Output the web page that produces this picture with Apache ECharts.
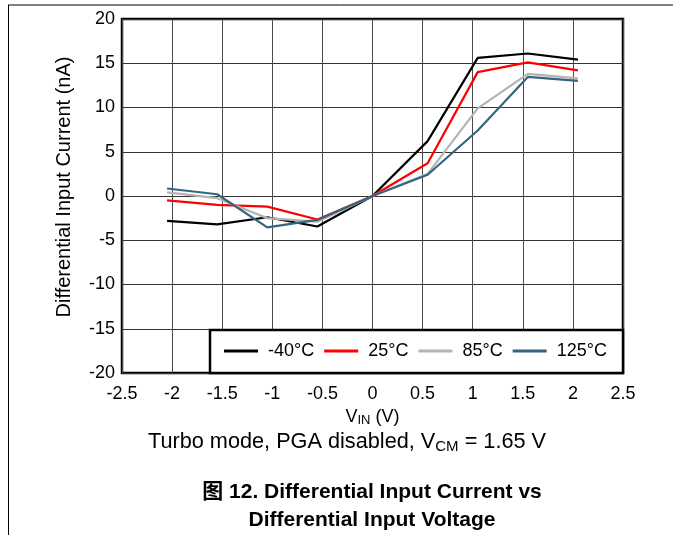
<!DOCTYPE html>
<html>
<head>
<meta charset="utf-8">
<script src="https://cdn.jsdelivr.net/npm/echarts@6/dist/echarts.min.js"></script>
<style>
html,body{margin:0;padding:0;background:#fff;}
#main{width:673px;height:535px;}
</style>
</head>
<body>
<div id="main"></div>
<script>
// Data
var vin = [-2.05, -1.55, -1.05, -0.55, 0, 0.55, 1.05, 1.55, 2.05];
var seriesNames = ['-40°C', '25°C', '85°C', '125°C'];
var iM40 = [-2.8, -3.2, -2.4, -3.45, 0, 6.2, 15.6, 16.1, 15.4];
var i25 = [-0.5, -1.0, -1.2, -2.65, 0, 3.7, 14.0, 15.1, 14.2];
var i85 = [0.4, -0.25, -2.5, -2.9, 0, 2.5, 9.9, 13.8, 13.3];
var i125 = [0.85, 0.2, -3.55, -2.7, 0, 2.4, 7.4, 13.45, 13.0];
var colors = ['#000000', '#ff0000', '#b4b4b4', '#346580'];

var font = 'Liberation Sans, Arial, Noto Sans CJK SC, sans-serif';

function pairs(ys) {
  return vin.map(function (x, i) { return [x, ys[i]]; });
}
var allY = [iM40, i25, i85, i125];

var chart = echarts.init(document.getElementById('main'), null, {renderer: 'canvas'});
var option = {
  animation: false,
  backgroundColor: '#fff',
  grid: {
    left: 122, right: 50, top: 19, bottom: 162,
    show: true, borderColor: '#000', borderWidth: 2.5, backgroundColor: 'transparent'
  },
  xAxis: {
    type: 'value', min: -2.5, max: 2.5, interval: 0.5,
    axisLine: {show: false}, axisTick: {show: false},
    axisLabel: {color: '#000', fontSize: 18, fontFamily: font, margin: 12},
    splitLine: {show: true, lineStyle: {color: '#4a4a4a', width: 1}},
    name: '{a|V}{b|IN}{a| (V)}',
    nameLocation: 'middle', nameGap: 31,
    nameTextStyle: {
      rich: {
        a: {fontSize: 18, fontFamily: font, color: '#000'},
        b: {fontSize: 13, fontFamily: font, color: '#000', padding: [8, 0, 0, 0]}
      }
    }
  },
  yAxis: {
    type: 'value', min: -20, max: 20, interval: 5,
    axisLine: {show: false}, axisTick: {show: false},
    axisLabel: {color: '#000', fontSize: 18, fontFamily: font, margin: 7},
    splitLine: {show: true, lineStyle: {color: '#333', width: 1}}
  },
  legend: {
    data: seriesNames,
    left: 224, top: 342,
    padding: 0,
    icon: 'rect',
    itemWidth: 34, itemHeight: 3, itemGap: 10,
    textStyle: {fontSize: 18, fontFamily: font, color: '#000', padding: [0, 0, 0, 5]},
    z: 10
  },
  graphic: [
    {type: 'rect', z: 5, shape: {x: 210, y: 330, width: 413, height: 43},
     style: {fill: '#fff', stroke: '#000', lineWidth: 2.5}},
    {type: 'line', z: 1, shape: {x1: 8, y1: 5, x2: 673, y2: 5}, style: {stroke: '#000', lineWidth: 1}},
    {type: 'line', z: 1, shape: {x1: 8.5, y1: 5, x2: 8.5, y2: 535}, style: {stroke: '#000', lineWidth: 1}},
    {type: 'text', z: 1, x: 64, y: 187, rotation: Math.PI / 2,
     style: {text: 'Differential Input Current (nA)', font: '20px ' + font, fill: '#000', textAlign: 'center', textVerticalAlign: 'middle'}},
    {type: 'text', z: 1, x: 347, y: 442, style: {
       text: '{a|Turbo mode, PGA disabled, V}{b|CM}{a| = 1.65 V}',
       textAlign: 'center', textVerticalAlign: 'middle',
       rich: {
         a: {fontSize: 21.7, fontFamily: font, fill: '#000'},
         b: {fontSize: 15, fontFamily: font, fill: '#000', padding: [9, 0, 0, 0]}
       }}},
    {type: 'text', z: 1, x: 372, y: 492,
     style: {text: '图 12. Differential Input Current vs', font: 'bold 21px ' + font, fill: '#000', textAlign: 'center', textVerticalAlign: 'middle'}},
    {type: 'text', z: 1, x: 372, y: 520,
     style: {text: 'Differential Input Voltage', font: 'bold 21px ' + font, fill: '#000', textAlign: 'center', textVerticalAlign: 'middle'}}
  ],
  series: seriesNames.map(function (n, k) {
    return {
      name: n, type: 'line', data: pairs(allY[k]),
      symbol: 'none', color: colors[k],
      lineStyle: {color: colors[k], width: 2.2},
      z: 3 + k * 0.01
    };
  })
};
chart.setOption(option);
</script>
</body>
</html>
